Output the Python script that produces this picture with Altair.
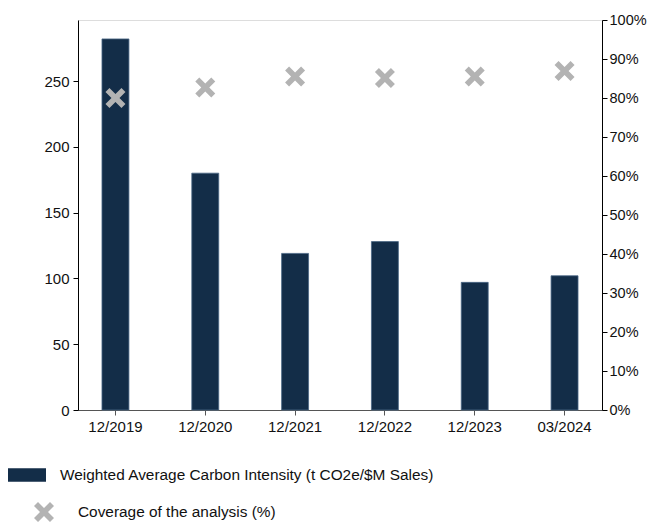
import altair as alt
import pandas as pd

periods = ["12/2019", "12/2020", "12/2021", "12/2022", "12/2023", "03/2024"]
intensity = [282, 180, 119, 128, 97, 102]
coverage = [0.80, 0.827, 0.855, 0.851, 0.855, 0.869]

bar_label = "Weighted Average Carbon Intensity (t CO2e/$M Sales)"
pt_label = "Coverage of the analysis (%)"

df = pd.DataFrame({
    "period": periods,
    "intensity": intensity,
    "coverage": coverage,
    "s1": bar_label,
    "s2": pt_label,
})

FONT = "Liberation Sans"
FS = 15
LFS = 15.4
BAR = "#132d48"
GRAY = "#b3b3b3"
XPATH = "M-1,-0.6 L-0.6,-1 L0,-0.4 L0.6,-1 L1,-0.6 L0.4,0 L1,0.6 L0.6,1 L0,0.4 L-0.6,1 L-1,0.6 L-0.4,0 Z"
RECT = "M-1,-0.35 L1,-0.35 L1,0.35 L-1,0.35 Z"

xenc = alt.X("period:N", sort=periods, title=None,
             scale=alt.Scale(paddingInner=0.70, paddingOuter=0.267),
             axis=alt.Axis(labelAngle=0, labelFontSize=FS, labelFont=FONT, labelColor="#111",
                           tickSize=5, domainColor="#555", tickColor="#555", labelPadding=4))

bars = alt.Chart(df).mark_bar(stroke="#4a6785", strokeWidth=0.8).encode(
    x=xenc,
    y=alt.Y("intensity:Q", title=None,
            scale=alt.Scale(domain=[0, 296.4], nice=False),
            axis=alt.Axis(orient="left", values=[0, 50, 100, 150, 200, 250], labelFontSize=FS,
                          labelFont=FONT, labelColor="#111", tickSize=5, domainColor="#000",
                          tickColor="#000", grid=False, labelPadding=4)),
    fill=alt.Fill("s1:N", scale=alt.Scale(range=[BAR]),
                  legend=alt.Legend(title=None, orient="none", legendX=-70, legendY=436,
                                    symbolType=RECT, symbolSize=1444, symbolStrokeWidth=0,
                                    symbolFillColor=BAR, symbolOpacity=1,
                                    labelFontSize=LFS, labelFont=FONT, labelColor="#111",
                                    labelOffset=14, labelLimit=600)),
)

points = alt.Chart(df).mark_point(filled=True, opacity=1, size=400, color=GRAY).encode(
    x=alt.X("period:N", sort=periods),
    y=alt.Y("coverage:Q", title=None,
            scale=alt.Scale(domain=[0, 1], nice=False),
            axis=alt.Axis(orient="right", format=".0%", values=[i / 10 for i in range(11)],
                          labelFontSize=14.5, labelFont=FONT, labelColor="#111", tickSize=5,
                          domainColor="#000", tickColor="#000", grid=False, labelPadding=2)),
    shape=alt.Shape("s2:N", scale=alt.Scale(range=[XPATH]),
                    legend=alt.Legend(title=None, orient="none", legendX=-44, legendY=482,
                                      symbolSize=400, symbolStrokeWidth=0,
                                      symbolFillColor=GRAY, symbolOpacity=1,
                                      labelFontSize=LFS, labelFont=FONT, labelColor="#111",
                                      labelOffset=24, labelLimit=600)),
)

chart = alt.layer(bars, points).resolve_scale(y="independent", fill="independent", shape="independent").properties(
    width=524, height=390,
    autosize=alt.AutoSizeParams(type="none"),
    padding={"left": 70, "top": 12, "right": 46, "bottom": 112},
).configure_view(stroke=None).configure(font=FONT, background="white")

chart.save("out.html", embed_options={"renderer": "svg", "actions": False})
